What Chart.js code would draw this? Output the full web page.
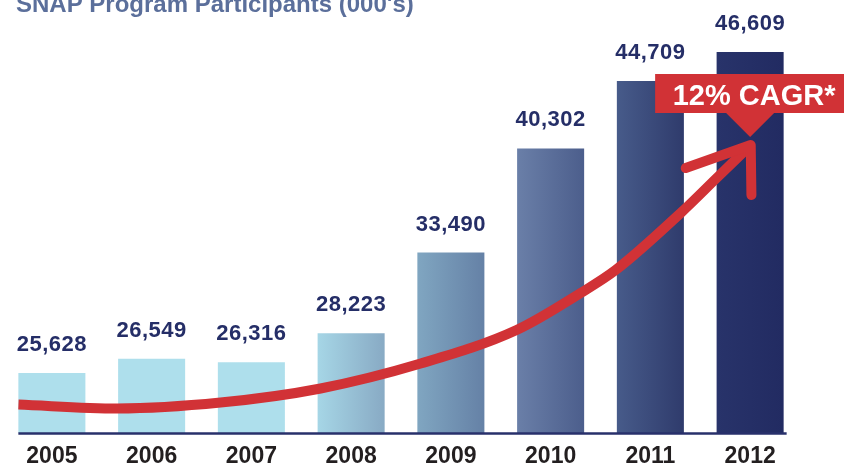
<!DOCTYPE html>
<html><head><meta charset="utf-8">
<script src="https://cdn.jsdelivr.net/npm/chart.js@4.4.1/dist/chart.umd.min.js"></script>
<style>html,body{margin:0;padding:0;background:#fff;overflow:hidden}#wrap{position:relative;width:844px;height:469px}</style>
</head><body><div id="wrap"><canvas id="c" width="844" height="469"></canvas></div>
<script>
const titleText = "SNAP Program Participants (000's)";
const years = ['2005', '2006', '2007', '2008', '2009', '2010', '2011', '2012'];
const participants = [25628, 26549, 26316, 28223, 33490, 40302, 44709, 46609];
const valueLabels = ['25,628', '26,549', '26,316', '28,223', '33,490', '40,302', '44,709', '46,609'];
const barLeftColors  = ['#aedfec', '#aedfec', '#aedfec', '#a6d6e6', '#80a6c1', '#6a7fa8', '#475b8a', '#28336a'];
const barRightColors = ['#aedfec', '#aedfec', '#aedfec', '#88aac4', '#6581a6', '#4c5e8c', '#2f3b6c', '#222b62'];
// growth arrow path (category position, value)
const arrowX = [-0.335, 0.657, 1.691, 2.694, 3.697, 4.659, 5.301, 5.652, 6.304, 6.675, 7.006];
const arrowY = [23560, 23300, 23690, 24610, 26240, 28430, 30850, 32350, 36080, 38430, 40520];
const calloutText = '12% CAGR*';
const calloutValue = 41050;
const yMin = 21700, yMax = 50000;

const RED = '#d13236';
const NAVY = '#252e67';

function barGradient(ctx) {
  const chart = ctx.chart;
  const i = ctx.dataIndex;
  if (!chart.chartArea || i === undefined) return barLeftColors[0];
  const xs = chart.scales.x;
  const c = xs.getPixelForValue(i);
  const step = xs.getPixelForValue(1) - xs.getPixelForValue(0);
  const half = step * 0.672 / 2;
  const g = chart.ctx.createLinearGradient(c - half, 0, c + half, 0);
  g.addColorStop(0, barLeftColors[i]);
  g.addColorStop(1, barRightColors[i]);
  return g;
}

const decor = {
  id: 'decor',
  afterDatasetsDraw(chart) {
    const ctx = chart.ctx;
    const ys = chart.scales.y;
    const bars = chart.getDatasetMeta(0).data;
    const first = bars[0], last = bars[bars.length - 1];
    ctx.save();
    // baseline
    ctx.strokeStyle = '#28306b';
    ctx.lineWidth = 2.5;
    ctx.beginPath();
    ctx.moveTo(first.x - first.width / 2, ys.bottom + 0.5);
    ctx.lineTo(last.x + last.width / 2 + 3, ys.bottom + 0.5);
    ctx.stroke();

    // arrow head
    const pts = chart.getDatasetMeta(1).data;
    const tip = pts[pts.length - 1];
    ctx.strokeStyle = RED;
    ctx.lineWidth = 10;
    ctx.lineCap = 'round';
    ctx.lineJoin = 'round';
    ctx.beginPath();
    ctx.moveTo(tip.x - 65, tip.y + 23);
    ctx.lineTo(tip.x, tip.y);
    ctx.lineTo(tip.x + 0.7, tip.y + 50);
    ctx.stroke();

    // callout
    const cx = last.x;
    const ty = ys.getPixelForValue(calloutValue);
    ctx.fillStyle = RED;
    ctx.beginPath();
    ctx.rect(cx - 95, ty - 63, 200, 39);
    ctx.fill();
    ctx.beginPath();
    ctx.moveTo(cx - 25, ty - 25);
    ctx.lineTo(cx + 25, ty - 25);
    ctx.lineTo(cx, ty);
    ctx.closePath();
    ctx.fill();
    ctx.fillStyle = '#ffffff';
    ctx.font = "bold 29px 'Liberation Sans', Arial, sans-serif";
    ctx.textAlign = 'center';
    ctx.textBaseline = 'alphabetic';
    ctx.fillText(calloutText, cx + 4, ty - 32);

    // value labels
    ctx.fillStyle = NAVY;
    ctx.font = "bold 22px 'Liberation Sans', Arial, sans-serif";
    try { ctx.letterSpacing = '0.5px'; } catch (e) {}
    bars.forEach((b, i) => {
      ctx.fillText(valueLabels[i], b.x, b.y - 22);
    });
    try { ctx.letterSpacing = '0px'; } catch (e) {}

    // title
    ctx.fillStyle = '#5b6f9b';
    ctx.textAlign = 'left';
    ctx.font = "bold 24px 'Liberation Sans', Arial, sans-serif";
    ctx.fillText(titleText, 16, 12);
    ctx.restore();
  }
};

new Chart(document.getElementById('c'), {
  type: 'bar',
  data: {
    labels: years,
    datasets: [
      {
        type: 'bar',
        data: participants,
        backgroundColor: barGradient,
        borderWidth: 0,
        grouped: false,
        barPercentage: 0.84,
        categoryPercentage: 0.8,
        xAxisID: 'x',
        yAxisID: 'y',
        order: 2
      },
      {
        type: 'line',
        data: arrowX.map((x, i) => ({ x: x, y: arrowY[i] })),
        borderColor: RED,
        borderWidth: 10,
        borderCapStyle: 'butt',
        borderJoinStyle: 'round',
        pointRadius: 0,
        fill: false,
        cubicInterpolationMode: 'monotone',
        xAxisID: 'xa',
        yAxisID: 'y',
        order: 0
      }
    ]
  },
  options: {
    responsive: false,
    animation: false,
    devicePixelRatio: 1,
    layout: { padding: { left: 2, right: 44, top: 0, bottom: 0 } },
    plugins: { legend: { display: false }, tooltip: { enabled: false }, title: { display: false } },
    scales: {
      x: {
        type: 'category',
        grid: { display: false, drawTicks: false },
        border: { display: false },
        afterFit(scale) { scale.height = 36; },
        ticks: {
          color: '#231f20',
          padding: 10,
          font: { family: "'Liberation Sans', Arial, sans-serif", size: 23, weight: 'bold' }
        }
      },
      xa: { type: 'linear', display: false, min: -0.5, max: 7.5, offset: false, ticks: { display: false }, grid: { display: false, drawTicks: false } },
      y: { display: false, min: yMin, max: yMax }
    }
  },
  plugins: [decor]
});
</script></body></html>
